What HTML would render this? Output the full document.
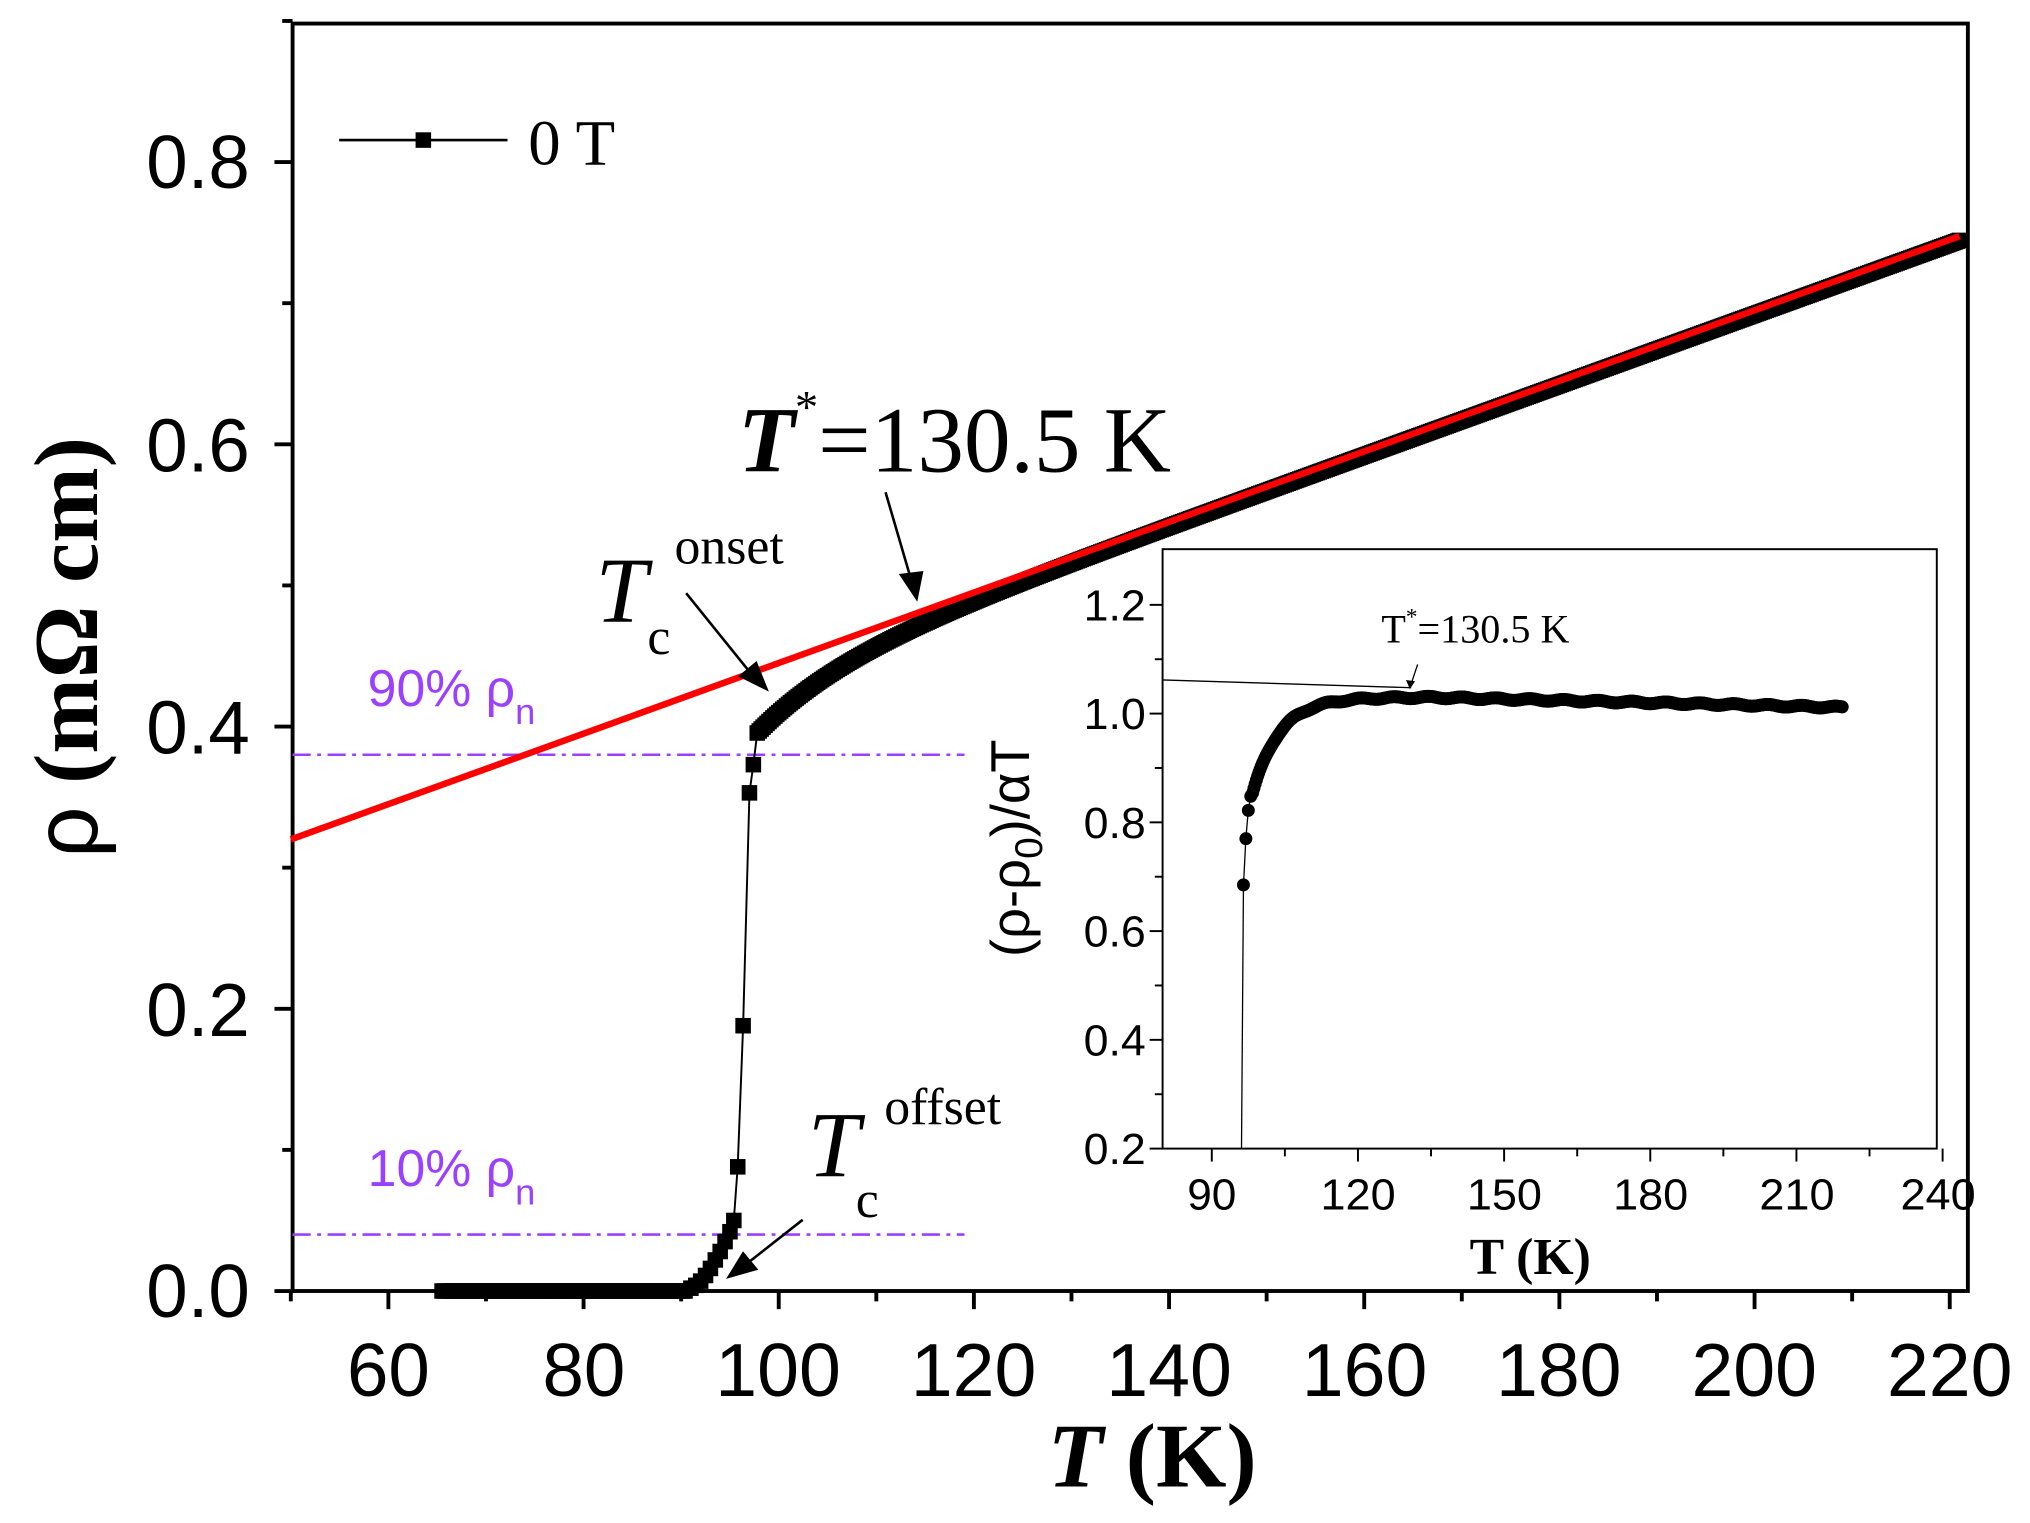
<!DOCTYPE html>
<html><head><meta charset="utf-8"><style>
html,body{margin:0;padding:0;background:#fff}
svg{display:block}
</style></head><body>
<svg id="s" width="2030" height="1523" viewBox="0 0 1568 1176" xmlns="http://www.w3.org/2000/svg">
<rect width="1568" height="1176" fill="#fff"/>
<g id="main"></g>
<g font-family="Liberation Sans, Arial, sans-serif" font-size="58" text-anchor="end" fill="#000">
<text x="193" y="1017" textLength="80" lengthAdjust="spacingAndGlyphs">0.0</text><text x="193" y="800" textLength="80" lengthAdjust="spacingAndGlyphs">0.2</text><text x="193" y="582" textLength="80" lengthAdjust="spacingAndGlyphs">0.4</text><text x="193" y="364" textLength="80" lengthAdjust="spacingAndGlyphs">0.6</text><text x="193" y="145" textLength="80" lengthAdjust="spacingAndGlyphs">0.8</text>
</g>
<g font-family="Liberation Sans, Arial, sans-serif" font-size="58" text-anchor="middle" fill="#000">
<text x="300" y="1078" textLength="64" lengthAdjust="spacingAndGlyphs">60</text><text x="451" y="1078" textLength="64" lengthAdjust="spacingAndGlyphs">80</text><text x="601" y="1078" textLength="97" lengthAdjust="spacingAndGlyphs">100</text><text x="752" y="1078" textLength="97" lengthAdjust="spacingAndGlyphs">120</text><text x="903" y="1078" textLength="97" lengthAdjust="spacingAndGlyphs">140</text><text x="1054" y="1078" textLength="97" lengthAdjust="spacingAndGlyphs">160</text><text x="1204" y="1078" textLength="97" lengthAdjust="spacingAndGlyphs">180</text><text x="1355" y="1078" textLength="97" lengthAdjust="spacingAndGlyphs">200</text><text x="1506" y="1078" textLength="97" lengthAdjust="spacingAndGlyphs">220</text>
</g>
<text x="890" y="1148" text-anchor="middle" font-family="Liberation Serif, serif" font-weight="bold" font-size="70"><tspan font-style="italic">T</tspan> (K)</text>
<text transform="translate(75,500) rotate(-90)" text-anchor="middle" font-family="Liberation Serif, serif" font-weight="bold" font-size="70"><tspan font-family="Liberation Sans, sans-serif" font-weight="normal">ρ</tspan>  (mΩ cm)</text>
<line x1="262" y1="108" x2="392" y2="108" stroke="#000" stroke-width="2"/>
<rect x="321" y="102" width="12" height="12" fill="#000"/>
<text x="408" y="127" font-family="Liberation Serif, serif" font-size="50">0 T</text>
<g fill="#9b40ff" font-family="Liberation Sans, Arial, sans-serif" font-size="40">
<text x="284" y="545">90% ρ<tspan font-size="28" dy="14">n</tspan></text>
<text x="284" y="916">10% ρ<tspan font-size="28" dy="14">n</tspan></text>
</g>
<g font-family="Liberation Serif, serif" fill="#000">
<text x="570" y="364" font-size="72"><tspan font-style="italic" font-weight="bold">T</tspan><tspan font-size="36" dy="-38">*</tspan><tspan dy="38">=130.5 K</tspan></text>
<text x="460" y="480" font-size="72" font-style="italic">T</text>
<text x="500" y="505" font-size="40">c</text>
<text x="521" y="435" font-size="40">onset</text>
<text x="624" y="908" font-size="72" font-style="italic">T</text>
<text x="661" y="940" font-size="40">c</text>
<text x="683" y="868" font-size="40">offset</text>
</g>
<g stroke="#000" stroke-width="2" fill="#000">
<line x1="684" y1="380" x2="703" y2="445"/><polygon points="696,444 712,442 708,462"/>
<line x1="530" y1="458" x2="580" y2="520"/><polygon points="572,522 584,512 592,532"/>
<line x1="620" y1="942" x2="578" y2="975"/><polygon points="574,968 584,980 563,986"/>
</g>
<rect x="898" y="424" width="598" height="463" fill="#fff" stroke="#000" stroke-width="1.5"/>
<g id="inset"></g>
<g font-family="Liberation Sans, Arial, sans-serif" font-size="34" text-anchor="end">
<text x="885" y="899" textLength="48" lengthAdjust="spacingAndGlyphs">0.2</text><text x="885" y="815" textLength="48" lengthAdjust="spacingAndGlyphs">0.4</text><text x="885" y="731" textLength="48" lengthAdjust="spacingAndGlyphs">0.6</text><text x="885" y="647" textLength="48" lengthAdjust="spacingAndGlyphs">0.8</text><text x="885" y="563" textLength="48" lengthAdjust="spacingAndGlyphs">1.0</text><text x="885" y="479" textLength="48" lengthAdjust="spacingAndGlyphs">1.2</text>
</g>
<g font-family="Liberation Sans, Arial, sans-serif" font-size="34" text-anchor="middle">
<text x="936" y="934" textLength="38" lengthAdjust="spacingAndGlyphs">90</text><text x="1049" y="934" textLength="58" lengthAdjust="spacingAndGlyphs">120</text><text x="1162" y="934" textLength="58" lengthAdjust="spacingAndGlyphs">150</text><text x="1275" y="934" textLength="58" lengthAdjust="spacingAndGlyphs">180</text><text x="1388" y="934" textLength="58" lengthAdjust="spacingAndGlyphs">210</text><text x="1497" y="934" textLength="58" lengthAdjust="spacingAndGlyphs">240</text>
</g>
<text x="1182" y="984" text-anchor="middle" font-family="Liberation Serif, serif" font-weight="bold" font-size="40">T (K)</text>
<text transform="translate(795,655) rotate(-90)" text-anchor="middle" font-family="Liberation Sans, Arial, sans-serif" font-size="42">(ρ-ρ<tspan font-size="30" dy="10">0</tspan><tspan dy="-10">)/αT</tspan></text>
<text x="1067" y="496" font-family="Liberation Serif, serif" font-size="31">T<tspan font-size="18" dy="-14">*</tspan><tspan dy="14">=130.5 K</tspan></text>
<line x1="898" y1="525" x2="1090" y2="531" stroke="#000" stroke-width="1"/>
<line x1="1095" y1="513" x2="1090" y2="528" stroke="#000" stroke-width="1"/>
<polygon points="1086,525 1093,526 1089,532" fill="#000"/>
</svg>
<script>
var NS="http://www.w3.org/2000/svg";
function el(p,t,a){var e=document.createElementNS(NS,t);for(var k in a)e.setAttribute(k,a[k]);p.appendChild(e);return e;}
var m=document.getElementById("main");
function X(T){return 300+(T-60)*7.5375;}
function Y(r){return 997-r*1090;}
el(m,"rect",{x:226,y:18,width:1294,height:979,fill:"none",stroke:"#000","stroke-width":3});
for(var i=0;i<=9;i++){var y=Y(i*0.1);var mj=i%2==0;el(m,"line",{x1:226-(mj?14:8),y1:y,x2:226,y2:y,stroke:"#000","stroke-width":3});}
for(var T=50;T<=220;T+=10){var x=X(T);var mj=(T%20==0);el(m,"line",{x1:x,y1:997,x2:x,y2:997+(mj?14:8),stroke:"#000","stroke-width":3});}
el(m,"line",{x1:226,y1:Y(0.38),x2:745,y2:Y(0.38),stroke:"#9b40ff","stroke-width":2,"stroke-dasharray":"14,5,3,5"});
el(m,"line",{x1:226,y1:Y(0.04),x2:745,y2:Y(0.04),stroke:"#9b40ff","stroke-width":2,"stroke-dasharray":"14,5,3,5"});
function line(T){return 0.32+(T-50)*0.0025;}
var pts=[];
for(var T=65.5;T<=90.5;T+=0.3)pts.push([T,0]);
var tr=[[91,0.002],[91.5,0.004],[92,0.007],[92.5,0.011],[93,0.016],[93.5,0.022],[94,0.028],[94.5,0.035],[95,0.042],[95.4,0.05],[95.8,0.088],[96.35,0.188],[97.0,0.353],[97.4,0.373]];
tr.forEach(function(p){pts.push(p);});
for(var T=97.8;T<=221;T+=0.2){var d=0.042*Math.exp(-(T-97.6)/9)+0.003;pts.push([T,line(T)-d]);}
var poly=pts.map(function(p){return X(p[0]).toFixed(1)+","+Y(p[1]).toFixed(1);}).join(" ");
el(m,"polyline",{points:poly,fill:"none",stroke:"#000","stroke-width":1.5});
pts.forEach(function(p){el(m,"rect",{x:X(p[0])-6,y:Y(p[1])-6,width:12,height:12,fill:"#000"});});
el(m,"line",{x1:X(50),y1:Y(0.32),x2:X(221),y2:Y(line(221)),stroke:"#f00","stroke-width":5});
var g=document.getElementById("inset");
function IX(T){return 936+(T-90)*3.7633;}
function IY(v){return 887-(v-0.2)*420;}
for(var i=0;i<=10;i++){var v=0.2+i*0.1;var mj=i%2==0;el(g,"line",{x1:898-(mj?10:6),y1:IY(v),x2:898,y2:IY(v),stroke:"#000","stroke-width":1.5});}
for(var T=90;T<=240;T+=15){var mj=(T%30==0);el(g,"line",{x1:IX(T),y1:887,x2:IX(T),y2:887+(mj?10:6),stroke:"#000","stroke-width":1.5});}
var ip=[[96.5,0.685],[97,0.77],[97.5,0.822],[98,0.848]];
for(var T=98.4;T<=219.5;T+=0.25){var v=1.03-0.19*Math.exp(-(T-98)/5.5);if(T>135)v=1.03-(T-135)*0.00022;v+=0.002*Math.sin(T*0.9);ip.push([T,v]);}
el(g,"line",{x1:IX(96.1),y1:887,x2:IX(96.5),y2:IY(0.685),stroke:"#000","stroke-width":1});
el(g,"polyline",{points:ip.map(function(p){return IX(p[0]).toFixed(1)+","+IY(p[1]).toFixed(1);}).join(" "),fill:"none",stroke:"#000","stroke-width":1});
ip.forEach(function(p){el(g,"circle",{cx:IX(p[0]),cy:IY(p[1]),r:5,fill:"#000"});});
</script>
</body></html>
